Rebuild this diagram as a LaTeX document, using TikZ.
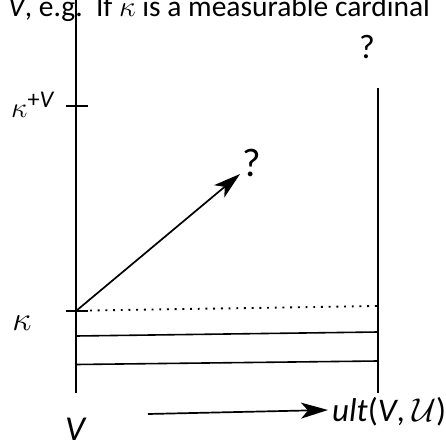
\documentclass[tikz,border=0pt]{standalone}
\usepackage{fix-cm}
\usepackage{fontspec}
\setmainfont{Carlito}
\usetikzlibrary{arrows.meta}

\tikzset{
  axis/.style={line width=2pt},
  band/.style={line width=1.6pt},
  dots/.style={line width=1.9pt,dash pattern=on 1.9pt off 5.8pt},
  bigarrow/.style={line width=1.7pt,-{Stealth[length=27pt,width=16pt,inset=7pt]}},
  lbl/.style={inner sep=0pt},
}

\begin{document}
\begin{tikzpicture}[x=1pt,y=-1pt]
\useasboundingbox (0,0) rectangle (446,443);
\clip (0,0) rectangle (446,443);

% ===== Heading, cut by the top edge =====
\node[lbl,anchor=base west] (head) at (8,16.5)
  {\fontsize{29.5}{32}\selectfont\textit{V}, e.g.\ \ If $\kappa$ is a measurable cardinal};

% ===== The two models =====
\coordinate (Vtop) at (76,0);
\coordinate (Vbot) at (76,393);
\coordinate (Mtop) at (378,88);
\coordinate (Mbot) at (378,393);
\draw[axis] (Vtop) -- (Vbot);
\draw[axis] (Mtop) -- (Mbot);

% ===== Ticks =====
\coordinate (kplus) at (76,106);
\coordinate (kap) at (76,311);
\draw[axis] ([xshift=-10pt]kplus) -- ([xshift=12pt]kplus);
\draw[axis] ([xshift=-10pt]kap) -- ([xshift=12pt]kap);

% ===== Levels below kappa =====
\draw[band] (76,336) -- (378,332);
\draw[band] (76,364.5) -- (378,361);
\draw[dots] (90,310.5) -- (378,306);

% ===== Labels =====
\node[lbl] (kplusl) at (33,105)
  {\fontsize{29}{32}\selectfont$\kappa^{\mbox{\fontsize{24}{26}\selectfont +\textit{V}}}$};
\node[lbl] (kapl) at (22,323) {\fontsize{34}{36}\selectfont$\kappa$};
\node[lbl,anchor=base] (Vl) at (76,440) {\fontsize{35}{38}\selectfont\textit{V}};
\node[lbl,anchor=base west] (ult) at (332,421)
  {\fontsize{33}{36}\selectfont\textit{ult}(\textit{V}, $\mathcal{U}$)};
\node[lbl,anchor=base] (q1) at (367,59) {\fontsize{34}{36}\selectfont ?};
\node[lbl,anchor=base west] (q2) at (242,177) {\fontsize{40}{42}\selectfont ?};

% ===== Arrows =====
\coordinate (mapstart) at (148,414);
\draw[bigarrow] (kap) -- ([xshift=-2pt,yshift=3pt]q2.base west);
\draw[bigarrow] (mapstart) -- ([xshift=-4pt]ult.base west |- 0,410);

\end{tikzpicture}
\end{document}
